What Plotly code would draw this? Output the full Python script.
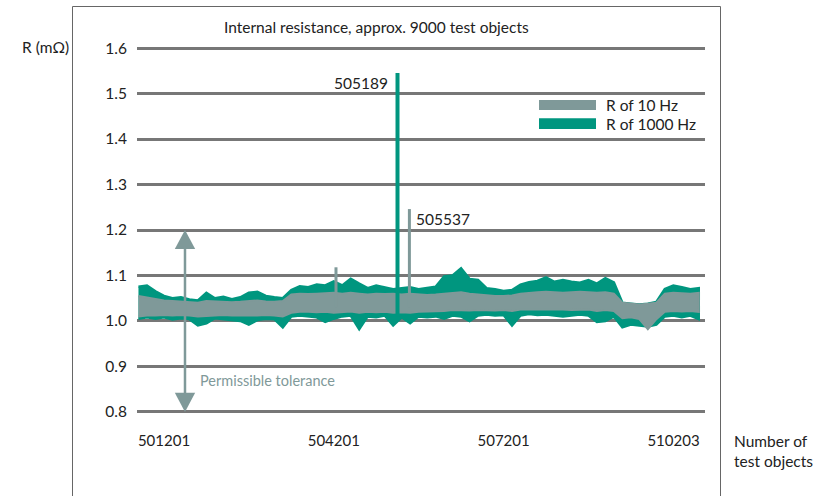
import plotly.graph_objects as go

# ---- data ----
x_start = 500750
x_step = 150
n_samples = 67
obj_numbers = [x_start + x_step * k for k in range(n_samples)]

r1000_hi = [1.075, 1.078, 1.065, 1.055, 1.050, 1.052, 1.047, 1.045, 1.062, 1.050,
            1.053, 1.048, 1.052, 1.062, 1.064, 1.055, 1.052, 1.050, 1.068, 1.076,
            1.074, 1.080, 1.078, 1.087, 1.078, 1.093, 1.082, 1.072, 1.078, 1.074,
            1.070, 1.072, 1.074, 1.070, 1.072, 1.075, 1.098, 1.100, 1.116, 1.092,
            1.090, 1.072, 1.070, 1.066, 1.068, 1.080, 1.085, 1.088, 1.096, 1.086,
            1.090, 1.086, 1.084, 1.090, 1.082, 1.094, 1.085, 1.040, 1.038, 1.036,
            1.038, 1.042, 1.070, 1.078, 1.074, 1.070, 1.072]
r1000_lo = [1.005, 1.008, 1.005, 1.008, 1.003, 1.006, 1.004, 0.990, 0.995, 1.006,
            1.004, 1.002, 1.000, 0.992, 1.002, 1.005, 1.004, 0.986, 1.010, 1.012,
            1.010, 1.008, 0.998, 1.005, 1.010, 1.012, 0.982, 1.010, 1.008, 1.012,
            0.990, 1.008, 0.995, 1.010, 1.008, 1.010, 1.005, 1.012, 1.010, 1.000,
            1.012, 1.014, 1.012, 1.013, 0.990, 1.012, 1.015, 1.013, 1.014, 1.012,
            1.010, 1.012, 1.014, 1.012, 0.998, 1.000, 1.010, 0.986, 0.992, 0.990,
            0.988, 0.992, 1.010, 1.012, 1.008, 1.012, 1.004]
r10_hi = [1.055, 1.052, 1.048, 1.045, 1.044, 1.043, 1.042, 1.040, 1.044, 1.043,
          1.042, 1.041, 1.042, 1.044, 1.045, 1.043, 1.042, 1.044, 1.058, 1.060,
          1.059, 1.060, 1.061, 1.062, 1.060, 1.062, 1.060, 1.058, 1.060, 1.059,
          1.060, 1.058, 1.060, 1.058, 1.057, 1.058, 1.060, 1.062, 1.063, 1.060,
          1.058, 1.056, 1.055, 1.055, 1.056, 1.060, 1.062, 1.063, 1.064, 1.063,
          1.062, 1.063, 1.064, 1.063, 1.062, 1.063, 1.060, 1.040, 1.038, 1.036,
          1.038, 1.040, 1.060, 1.062, 1.061, 1.060, 1.062]
r10_lo = [1.010, 1.012, 1.012, 1.013, 1.012, 1.013, 1.012, 1.010, 1.011, 1.012,
          1.013, 1.012, 1.011, 1.012, 1.012, 1.013, 1.012, 1.010, 1.018, 1.020,
          1.020, 1.019, 1.020, 1.018, 1.020, 1.021, 1.018, 1.020, 1.019, 1.020,
          1.018, 1.019, 1.018, 1.020, 1.021, 1.022, 1.022, 1.024, 1.024, 1.023,
          1.024, 1.024, 1.023, 1.024, 1.022, 1.025, 1.026, 1.026, 1.026, 1.025,
          1.025, 1.024, 1.024, 1.025, 1.022, 1.024, 1.022, 1.006, 1.008, 1.004,
          0.982, 1.004, 1.020, 1.022, 1.021, 1.022, 1.020]

# single-object outliers
spike_1000_x = [505327]
spike_1000_y = [1.545]
spike_10_x = [504240, 505537]
spike_10_y = [1.118, 1.246]

y_ticks = [0.8, 0.9, 1.0, 1.1, 1.2, 1.3, 1.4, 1.5, 1.6]
x_ticks = [501201, 504201, 507201, 510203]
x_tick_text = ["501201", "504201", "507201", "510203"]

GREEN = "#00967f"
GRAY = "#7f9999"
TXT = "#222222"
FONT = "Lato"

W, H = 821, 496
L, R, T, B = 137, 116, 39, 75
pw, ph = W - L - R, H - T - B
def px(xp):
    return (xp - L) / pw
def py(yp):
    return (H - B - yp) / ph

fig = go.Figure()

# 1000 Hz band
fig.add_trace(go.Scatter(
    x=obj_numbers + obj_numbers[::-1], y=r1000_hi + r1000_lo[::-1],
    fill="toself", fillcolor=GREEN, mode="lines",
    line=dict(color=GREEN, width=2.5), hoverinfo="skip", showlegend=False))
# 10 Hz band
fig.add_trace(go.Scatter(
    x=obj_numbers + obj_numbers[::-1], y=r10_hi + r10_lo[::-1],
    fill="toself", fillcolor=GRAY, mode="lines",
    line=dict(color=GRAY, width=2), hoverinfo="skip", showlegend=False))

# spikes
for sx, sy in zip(spike_10_x, spike_10_y):
    fig.add_trace(go.Scatter(x=[sx, sx], y=[1.03, sy], mode="lines",
                             line=dict(color=GRAY, width=3), showlegend=False))
for sx, sy in zip(spike_1000_x, spike_1000_y):
    fig.add_trace(go.Scatter(x=[sx, sx], y=[1.01, sy], mode="lines",
                             line=dict(color=GREEN, width=4), showlegend=False))

shapes = []
# tolerance arrow
ax = 501572
shapes.append(dict(type="line", xref="x", yref="y", x0=ax, x1=ax, y0=0.83, y1=1.17,
                   line=dict(color=GRAY, width=2.5)))
shapes.append(dict(type="path", xref="x", yref="y",
                   path=f"M {ax} 1.2 L {ax-180} 1.158 L {ax+180} 1.158 Z",
                   fillcolor=GRAY, line=dict(width=0)))
shapes.append(dict(type="path", xref="x", yref="y",
                   path=f"M {ax} 0.8 L {ax-180} 0.842 L {ax+180} 0.842 Z",
                   fillcolor=GRAY, line=dict(width=0)))
# legend swatches
shapes.append(dict(type="rect", xref="x", yref="y", x0=507827, x1=508834, y0=1.464, y1=1.486,
                   fillcolor=GRAY, line=dict(width=0)))
shapes.append(dict(type="rect", xref="x", yref="y", x0=507827, x1=508834, y0=1.422, y1=1.446,
                   fillcolor=GREEN, line=dict(width=0)))
# frame
shapes.append(dict(type="path", xref="paper", yref="paper",
                   path=f"M {px(72.5)} {py(500)} L {px(72.5)} {py(6.5)} L {px(720.5)} {py(6.5)} L {px(720.5)} {py(500)}",
                   line=dict(color="#666", width=1)))

def ann(text, x, y, xref="paper", yref="paper", xanchor="center", size=15.5, color=TXT, align="center"):
    return dict(text=text, xref=xref, yref=yref, x=x, y=y, xanchor=xanchor, yanchor="middle",
                align=align, showarrow=False, font=dict(size=size, color=color))

annotations = [
    ann("Internal resistance, approx. 9000 test objects", px(376), py(27)),
    ann("R (mΩ)", px(20), py(47), xanchor="left"),
    ann("Number of<br>test objects", px(732), py(451), xanchor="left", align="left"),
    ann("505189", 505195, 1.523, "x", "y", xanchor="right"),
    ann("505537", 505618, 1.224, "x", "y", xanchor="left"),
    ann("Permissible tolerance", 501802, 0.870, "x", "y", xanchor="left", size=14.5, color=GRAY),
    ann("R of 10 Hz", 508976, 1.475, "x", "y", xanchor="left"),
    ann("R of 1000 Hz", 508976, 1.433, "x", "y", xanchor="left"),
]

fig.update_layout(
    width=W, height=H,
    margin=dict(l=L, r=R, t=T, b=B, pad=0),
    paper_bgcolor="white", plot_bgcolor="white",
    font=dict(family=FONT, color=TXT, size=15),
    shapes=shapes,
    annotations=annotations,
    showlegend=False,
    xaxis=dict(range=[500724, 510760], tickvals=x_ticks, ticktext=x_tick_text,
               showgrid=False, zeroline=False, showline=False,
               ticks="outside", ticklen=6, tickcolor="rgba(0,0,0,0)",
               tickfont=dict(size=15, color=TXT)),
    yaxis=dict(range=[0.78, 1.62], tickvals=y_ticks, ticktext=[f"{v:.1f}" for v in y_ticks],
               showgrid=True, gridcolor="#777777", gridwidth=3, zeroline=False, showline=False,
               ticks="outside", ticklen=6, tickcolor="rgba(0,0,0,0)",
               tickfont=dict(size=15.5, color=TXT)),
)

fig.write_html("out.html", config={"displayModeBar": False},
               post_script="document.body.style.margin='0';document.body.style.overflow='hidden';")
